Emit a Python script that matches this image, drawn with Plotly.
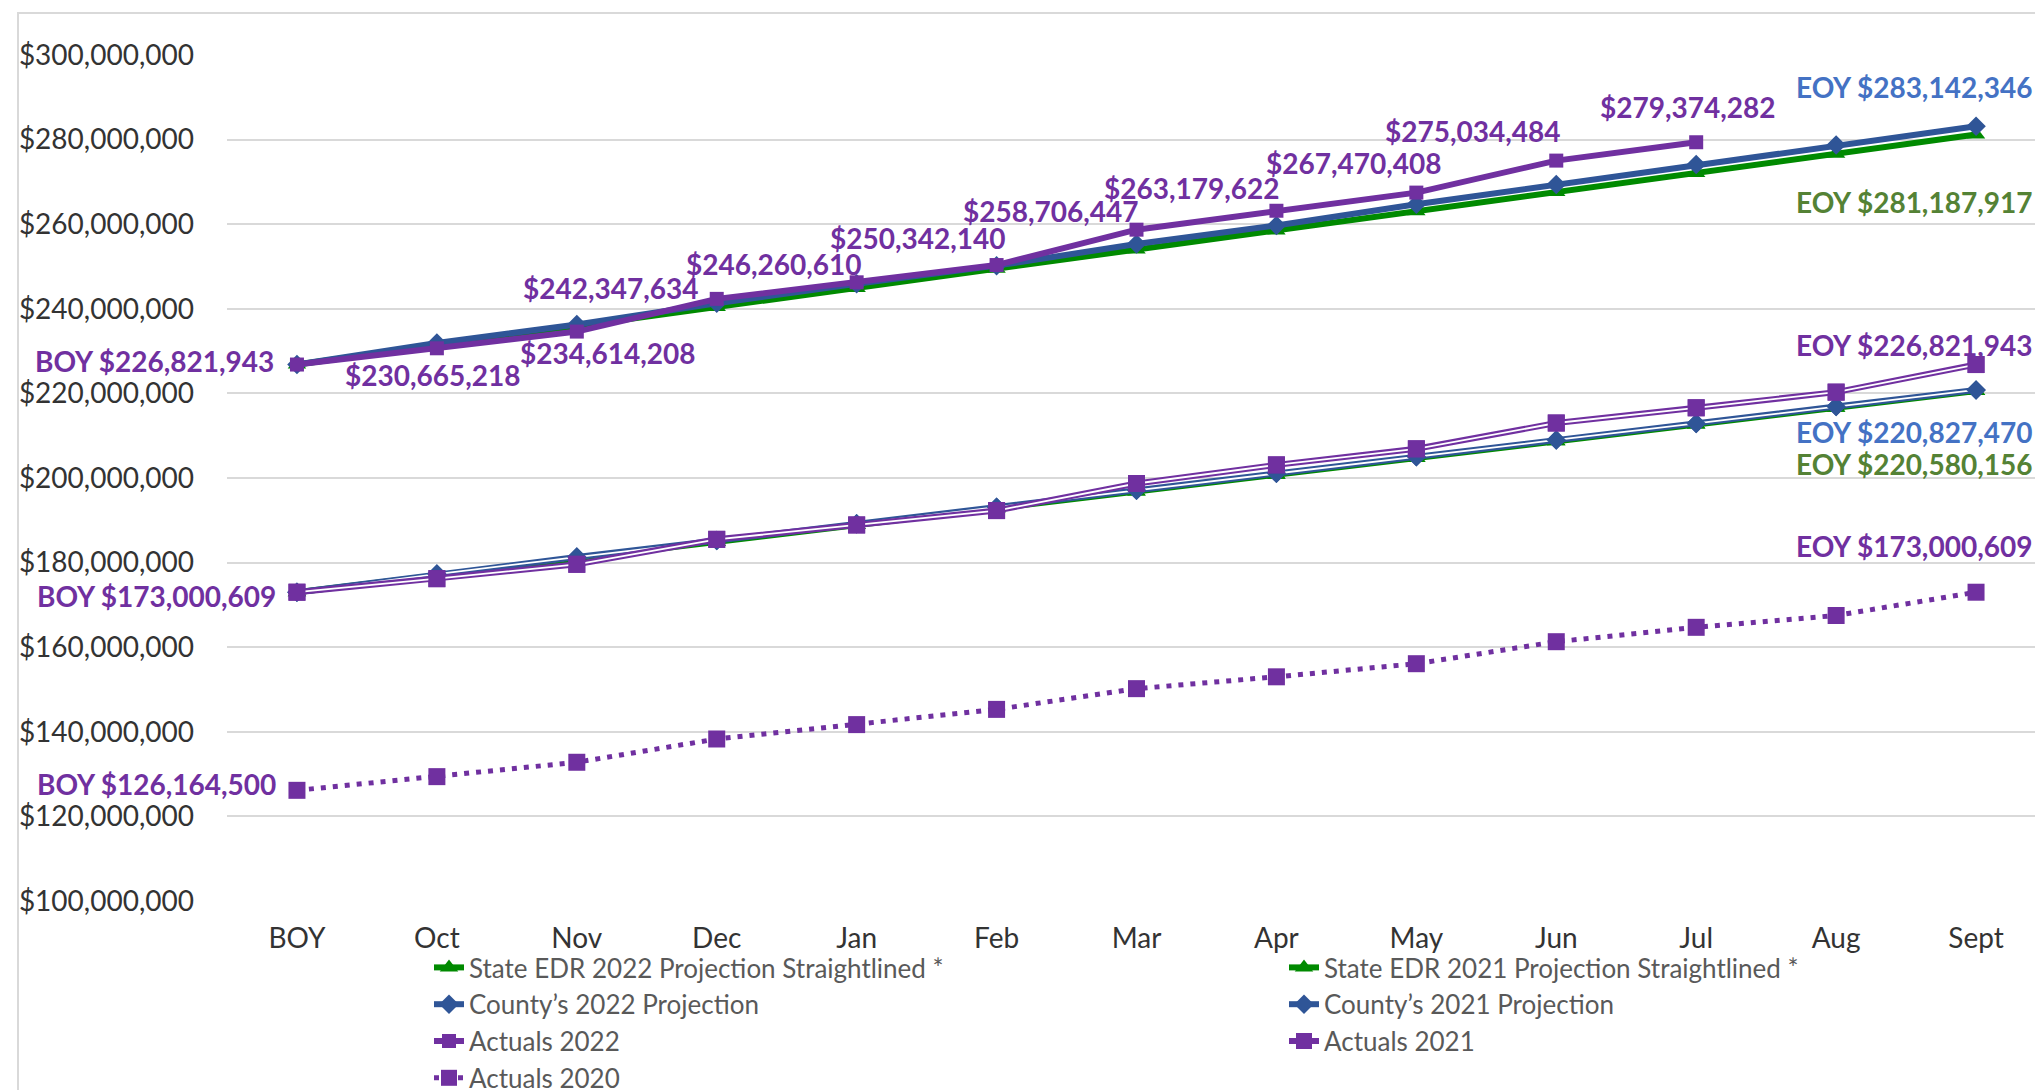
import plotly.graph_objects as go

categories = ["BOY", "Oct", "Nov", "Dec", "Jan", "Feb", "Mar", "Apr", "May", "Jun", "Jul", "Aug", "Sept"]

state_edr_2022 = [226821943, 231350000, 235880000, 240410000, 244940000, 249470000, 254000000,
                  258530000, 263070000, 267600000, 272130000, 276660000, 281187917]
county_2022 = [226821943, 231900000, 236300000, 241300000, 245900000, 250200000, 255300000,
               259700000, 264700000, 269400000, 274100000, 278700000, 283142346]
actuals_2022 = [226821943, 230665218, 234614208, 242347634, 246260610, 250342140, 258706447,
                263179622, 267470408, 275034484, 279374282, None, None]
state_edr_2021 = [173000609, 176970000, 180930000, 184900000, 188860000, 192830000, 196790000,
                  200760000, 204720000, 208690000, 212650000, 216620000, 220580156]
county_2021 = [173000609, 177300000, 181300000, 185200000, 189200000, 193100000, 197100000,
               201100000, 205000000, 209000000, 212900000, 216900000, 220827470]
actuals_2021 = [173000609, 176200000, 179600000, 185500000, 188900000, 192300000, 198700000,
                203100000, 206900000, 213000000, 216600000, 220300000, 226821943]
actuals_2020 = [126164500, 129400000, 132800000, 138300000, 141700000, 145300000, 150200000,
                153000000, 156100000, 161300000, 164700000, 167500000, 173000609]

GREEN = "#008A00"
BLUE = "#2F5597"
PURPLE = "#7030A0"
LBL_BLUE = "#4472C4"
LBL_GREEN = "#548235"
FONT = "Lato"
TXT = "#333333"
LEG_TXT = "#595959"

xi = list(range(len(categories)))
fig = go.Figure()


def single(name, ys, color, symbol, msize, width=6, dash="solid"):
    fig.add_trace(go.Scatter(
        x=xi, y=ys, name=name, mode="lines+markers",
        line=dict(color=color, width=width, dash=dash),
        marker=dict(symbol=symbol, size=msize, color=color),
        hoverinfo="skip"))


def double(name, ys, color, symbol, msize):
    fig.add_trace(go.Scatter(
        x=xi, y=ys, name=name, mode="lines+markers",
        line=dict(color=color, width=6),
        marker=dict(symbol=symbol, size=msize, color=color),
        hoverinfo="skip"))
    fig.add_trace(go.Scatter(
        x=xi, y=ys, mode="lines", showlegend=False,
        line=dict(color="white", width=1.8), hoverinfo="skip"))
    fig.add_trace(go.Scatter(
        x=xi, y=ys, mode="markers", showlegend=False,
        marker=dict(symbol=symbol, size=msize, color=color), hoverinfo="skip"))


single("State EDR 2022 Projection Straightlined *", state_edr_2022, GREEN, "triangle-up", 16)
double("State EDR 2021 Projection Straightlined *", state_edr_2021, GREEN, "triangle-up", 16)
single("County\u2019s 2022 Projection", county_2022, BLUE, "diamond", 15)
double("County\u2019s 2021 Projection", county_2021, BLUE, "diamond", 15)
single("Actuals 2022", actuals_2022, PURPLE, "square", 14)
double("Actuals 2021", actuals_2021, PURPLE, "square", 17)
single("Actuals 2020", actuals_2020, PURPLE, "square", 17, width=5, dash="5px,7px")

# data label placement (pixel offsets from the point)
a22_xshift = [-21, -4, 31, -106, -83, -79, -86, -84, -62, -83, -8]
a22_yshift = [4, -27, -21, 11, 18, 27, 19, 23, 30, 30, 35]

ann = []
lblfont = dict(family=FONT, size=28, weight="bold")
for i, v in enumerate(actuals_2022):
    if v is None:
        continue
    txt = ("BOY " if i == 0 else "") + f"${v:,.0f}"
    ann.append(dict(x=i, y=v, xref="x", yref="y", text=txt, showarrow=False,
                    xanchor="right" if i == 0 else "center", yanchor="middle",
                    xshift=a22_xshift[i], yshift=a22_yshift[i],
                    font=dict(lblfont, color=PURPLE)))

last = len(categories) - 1
eoy = [
    (county_2022[last], LBL_BLUE, 39),
    (state_edr_2022[last], LBL_GREEN, -67),
    (actuals_2021[last], PURPLE, 20),
    (county_2021[last], LBL_BLUE, -42),
    (state_edr_2021[last], LBL_GREEN, -73),
    (actuals_2020[last], PURPLE, 46),
]
for v, c, ys in eoy:
    ann.append(dict(x=last, y=v, xref="x", yref="y", text=f"EOY ${v:,.0f}", showarrow=False,
                    xanchor="right", yanchor="middle", xshift=58, yshift=ys,
                    font=dict(lblfont, color=c)))

for v, ys in [(actuals_2021[0], -4), (actuals_2020[0], 6)]:
    ann.append(dict(x=0, y=v, xref="x", yref="y", text=f"BOY ${v:,.0f}", showarrow=False,
                    xanchor="right", yanchor="middle", xshift=-19, yshift=ys,
                    font=dict(lblfont, color=PURPLE)))

fig.update_layout(
    width=2043, height=1090,
    margin=dict(l=219, r=5, t=47, b=197, autoexpand=False),
    paper_bgcolor="white", plot_bgcolor="white",
    font=dict(family=FONT, size=28, color=TXT),
    annotations=ann,
    showlegend=True,
    legend=dict(orientation="h", xref="container", yref="container",
                x=421 / 2043, xanchor="left", y=1 - 936 / 1090, yanchor="top",
                entrywidth=810, entrywidthmode="pixels",
                font=dict(family=FONT, size=26, color=LEG_TXT), traceorder="normal",
                bgcolor="rgba(0,0,0,0)"),
    shapes=[dict(type="rect", xref="paper", yref="paper",
                 x0=-(219 - 10) / 1819, x1=1 + 2 / 1819, y0=-1, y1=1 + 42 / 846,
                 line=dict(color="#D9D9D9", width=2), layer="below")],
)
fig.update_xaxes(range=[-0.5, 12.5], tickvals=xi, ticktext=categories, showgrid=False,
                 zeroline=False, showline=False, ticks="", ticklabelstandoff=18,
                 tickfont=dict(family=FONT, size=28, color=TXT))
fig.update_yaxes(range=[100000000, 300000000], dtick=20000000, tick0=0, tickformat="$,.0f",
                 showgrid=True, gridcolor="#D9D9D9", gridwidth=2, zeroline=False,
                 showline=False, ticks="", ticklabelstandoff=32,
                 tickfont=dict(family=FONT, size=28, color=TXT))

fig.write_html("out.html")
